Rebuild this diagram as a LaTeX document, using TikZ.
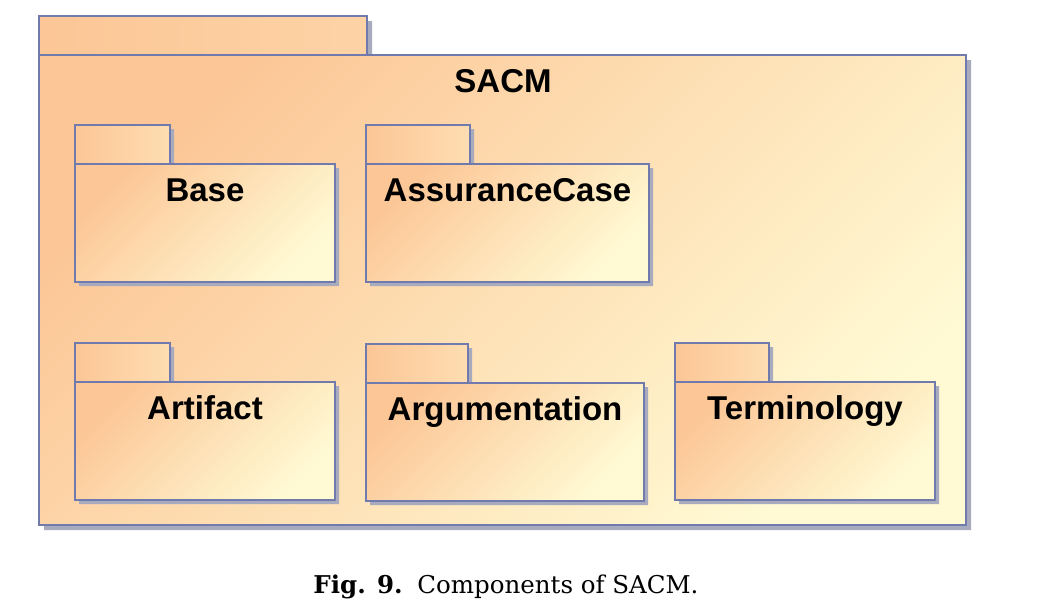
\documentclass[tikz,border=0pt]{standalone}
\usepackage{fontspec}
\setsansfont{Liberation Sans}
\newfontfamily\capfont{DejaVu Serif}

\definecolor{pkgorange}{RGB}{252,198,150}
\definecolor{pkgyellow}{RGB}{255,250,212}
\definecolor{pkgline}{RGB}{112,122,172}
\definecolor{pkgshadow}{RGB}{168,170,190}

\tikzset{
	pkgbox/.style={left color=pkgorange,right color=pkgyellow,shading angle=45,draw=pkgline,line width=1.8pt},
	pkgshade/.style={fill=pkgshadow},
	pkgname/.style={font=\sffamily\bfseries\fontsize{33}{33}\selectfont,anchor=base,inner sep=0pt},
}

\begin{document}
\begin{tikzpicture}[x=1pt,y=-1pt]

\fill[white] (0,0) rectangle (1047,614);
\useasboundingbox (0,0) rectangle (1047,614);

% outer package
\fill[pkgshade] (44,21) -- (372,21) -- (372,60) -- (971,60) -- (971,530) -- (44,530) -- cycle;
\shade[pkgbox] (39,55) rectangle (966,525);
\shade[pkgbox,right color=pkgorange!75!pkgyellow] (39,16) rectangle (367,55);
\node[pkgname] (sacm) at (503,92) {SACM};

% inner packages: left x / tab top / tab right / body right / name / label
\foreach \x/\y/\t/\r/\n/\lbl in {75/125/170/335/base/Base,
	366/125/470/649/assurance/AssuranceCase,
	75/343/170/335/artifact/Artifact,
	366/344/468/644/argumentation/Argumentation,
	675/343/769/935/terminology/Terminology} {
	
	\fill[pkgshade] (\x+4,\y+4) -- (\t+4,\y+4) -- (\t+4,\y+43) -- (\r+4,\y+43)
		-- (\r+4,\y+161) -- (\x+4,\y+161) -- cycle;
	\shade[pkgbox] (\x,\y+39) rectangle (\r,\y+157);
	\shade[pkgbox,right color=pkgorange!55!pkgyellow] (\x,\y) rectangle (\t,\y+39);
	
	\node[pkgname] (\n) at ({(\x+\r)/2},\y+76) {\lbl};
}

% caption
\node[anchor=base,inner sep=0pt] (caption) at (506,593)
	{\capfont\fontsize{24.5}{24.5}\selectfont\textbf{Fig. 9.}\hspace{0.6em}Components of SACM.};

\end{tikzpicture}
\end{document}
